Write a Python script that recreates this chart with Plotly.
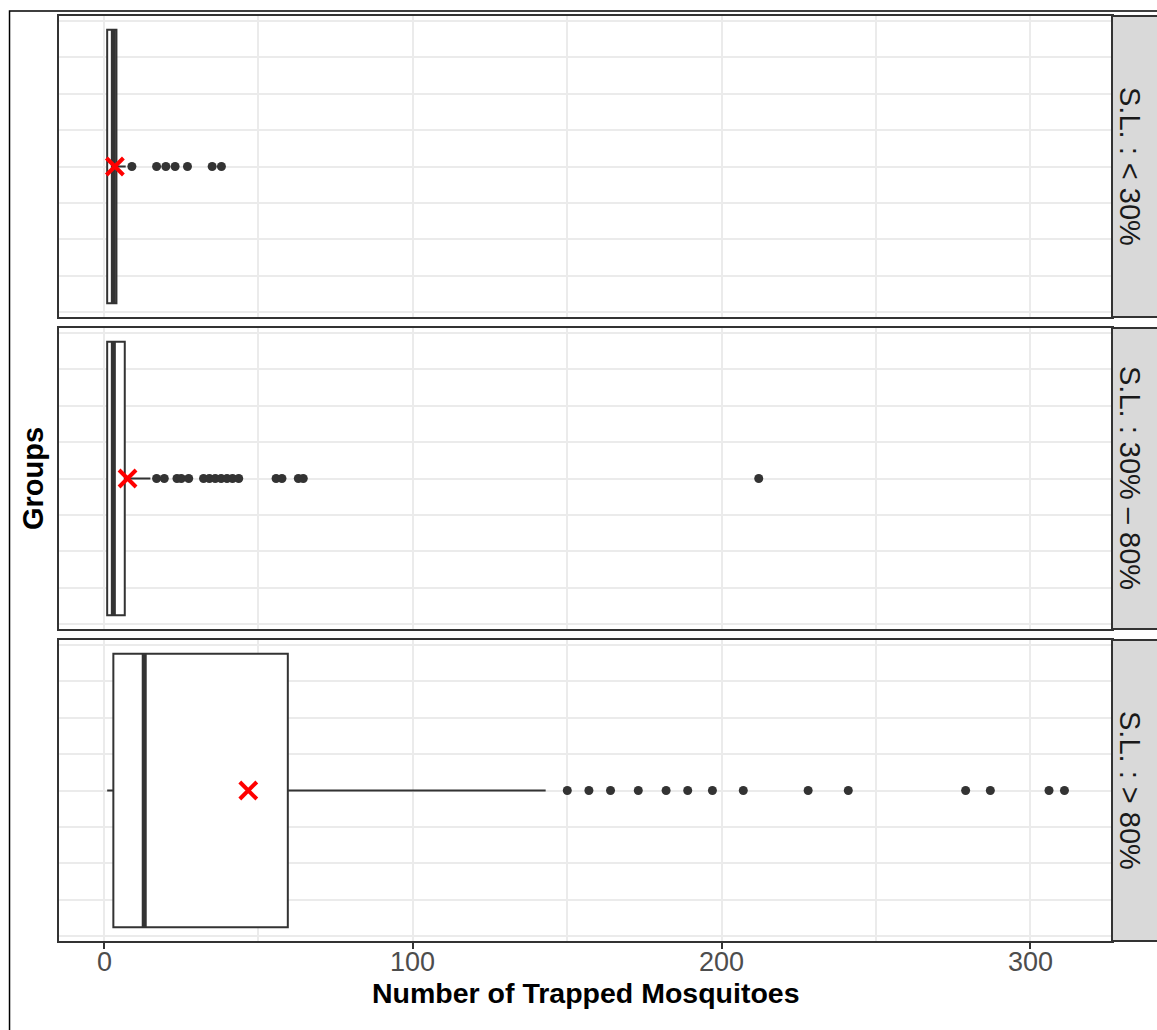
import plotly.graph_objects as go

# Summary statistics of trapped mosquito counts per S.L. group
groups = ["S.L. : < 30%", "S.L. : 30% – 80%", "S.L. : > 80%"]
q1 = [1, 1, 3]
median = [3, 3, 13]
q3 = [4, 6.7, 59.5]
lower_whisker = [1, 1, 1]
upper_whisker = [7, 15, 143]
means = [3.5, 7.6, 46.7]
outliers = [
    [9, 17, 20, 23, 27, 35, 38],
    [17, 19.5, 23.6, 25, 27.4, 32.2, 34.1, 36, 37.9, 39.8, 41.6, 43.6,
     55.7, 57.6, 62.9, 64.5, 212],
    [150, 157, 164, 173, 182, 189, 197, 207, 228, 241, 279, 287, 306, 311],
]
x_ticks = [0, 100, 200, 300]

BOX_WIDTH = 0.75
X_RANGE = [-14.6, 326.4]
Y_RANGE = [-0.4125, 0.4125]

W, H = 1157, 1030
L, R, T, B = 59, 1112.5, 16, 941
plot_w, plot_h = R - L, B - T

def py(px):
    return (B - px) / plot_h

def px_x(px):
    return (px - L) / plot_w

panel_px = [(16, 317), (328, 629), (640, 941)]
domains = [[py(b), py(t)] for t, b in panel_px]

DARK = "#333333"
GRID = "#ebebeb"

fig = go.Figure()

for i, g in enumerate(groups):
    ax = "" if i == 0 else str(i + 1)
    xa, ya = "x" + ax, "y" + ax
    fig.add_trace(go.Box(
        y=[0], q1=[q1[i]], median=[median[i]], q3=[q3[i]],
        lowerfence=[lower_whisker[i]], upperfence=[upper_whisker[i]],
        orientation="h", width=BOX_WIDTH, boxpoints=False,
        fillcolor="white", line=dict(color=DARK, width=2),
        whiskerwidth=0, xaxis=xa, yaxis=ya, showlegend=False,
        hoverinfo="skip",
    ))
    # thick median bar
    fig.add_trace(go.Scatter(
        x=[median[i], median[i]], y=[-BOX_WIDTH / 2, BOX_WIDTH / 2],
        mode="lines", line=dict(color=DARK, width=5),
        xaxis=xa, yaxis=ya, showlegend=False, hoverinfo="skip",
    ))
    # outlying observations
    fig.add_trace(go.Scatter(
        x=outliers[i], y=[0] * len(outliers[i]), mode="markers",
        marker=dict(color=DARK, size=9),
        xaxis=xa, yaxis=ya, showlegend=False, hoverinfo="skip",
    ))
    # group mean
    fig.add_trace(go.Scatter(
        x=[means[i]], y=[0], mode="markers",
        marker=dict(symbol="x-thin", size=17, color="red",
                    line=dict(color="red", width=4)),
        xaxis=xa, yaxis=ya, showlegend=False, hoverinfo="skip",
    ))

layout = dict(
    width=W, height=H,
    margin=dict(l=L, r=W - R, t=T, b=H - B, pad=0),
    paper_bgcolor="white", plot_bgcolor="white",
    font=dict(family="Liberation Sans, Arial, sans-serif"),
)

for i in range(3):
    ax = "" if i == 0 else str(i + 1)
    bottom = i == 2
    layout["xaxis" + ax] = dict(
        domain=[0, 1], anchor="y" + ax, range=X_RANGE,
        tickmode="array", tickvals=x_ticks,
        showticklabels=False, ticks="outside" if bottom else "",
        ticklen=6, tickwidth=2, tickcolor=DARK,
        showgrid=True, gridcolor=GRID, gridwidth=2,
        minor=dict(dtick=50, tick0=0, showgrid=True, gridcolor=GRID, gridwidth=1.5),
        zeroline=False, showline=True, linecolor=DARK, linewidth=2, mirror=True,
        matches=None if i == 0 else "x",
    )
    layout["yaxis" + ax] = dict(
        domain=domains[i], anchor="x" + ax, range=Y_RANGE,
        showticklabels=False, ticks="", tick0=0, dtick=0.2,
        showgrid=True, gridcolor=GRID, gridwidth=2,
        minor=dict(dtick=0.1, tick0=0, showgrid=True, gridcolor=GRID, gridwidth=1.5),
        zeroline=False, showline=True, linecolor=DARK, linewidth=2, mirror=True,
    )

fig.update_layout(**layout)

shapes = []
annotations = []
for i, g in enumerate(groups):
    y0, y1 = domains[i]
    shapes.append(dict(
        type="rect", xref="paper", yref="paper",
        x0=1.0, x1=px_x(1160), y0=y0, y1=y1,
        fillcolor="#d9d9d9", line=dict(color=DARK, width=2), layer="above",
    ))
    annotations.append(dict(
        xref="paper", yref="paper", x=px_x(1131), y=(y0 + y1) / 2,
        text=g, showarrow=False, textangle=90,
        font=dict(size=29, color="#1a1a1a"),
        xanchor="center", yanchor="middle",
    ))

# bottom axis tick labels, placed on the shared x scale
for v in x_ticks:
    annotations.append(dict(
        xref="x3", yref="paper", x=v, y=py(962),
        text=str(v), showarrow=False,
        font=dict(size=27, color="#4d4d4d"),
        xanchor="center", yanchor="middle",
    ))

# outer frame
shapes.append(dict(
    type="rect", xref="paper", yref="paper",
    x0=px_x(9.5), x1=px_x(1170), y0=py(1045), y1=py(11),
    line=dict(color="black", width=1.5), fillcolor="rgba(0,0,0,0)",
))

annotations.append(dict(
    xref="paper", yref="paper", x=0.5, y=py(993),
    text="<b>Number of Trapped Mosquitoes</b>", showarrow=False,
    font=dict(size=28.5, color="black"), xanchor="center", yanchor="middle",
))
annotations.append(dict(
    xref="paper", yref="paper", x=px_x(33), y=py(479),
    text="<b>Groups</b>", showarrow=False, textangle=-90,
    font=dict(size=29, color="black"), xanchor="center", yanchor="middle",
))

fig.update_layout(shapes=shapes, annotations=annotations)

fig.write_html("out.html")
